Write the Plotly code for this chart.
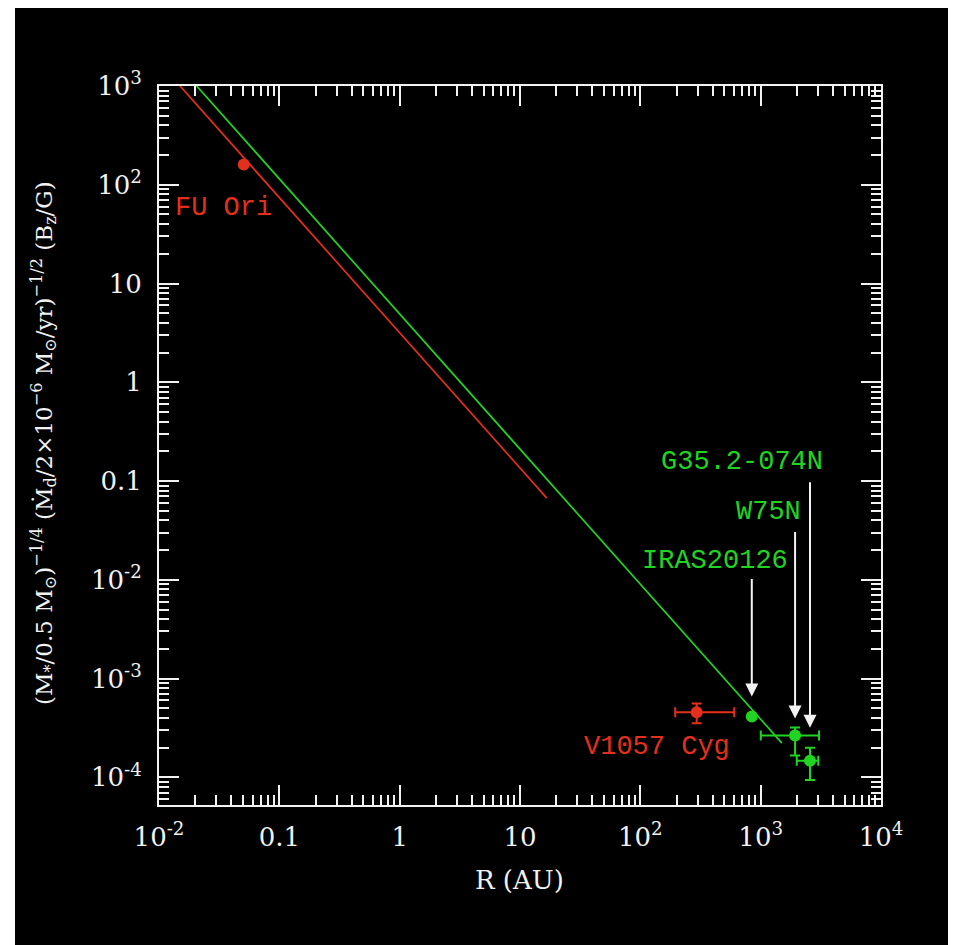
import math
import plotly.graph_objects as go

# ---------------- data ----------------
red_names = ["FU Ori", "V1057 Cyg"]
red_r = [0.0506, 294]
red_r_lo = [0.0506, 195]
red_r_hi = [0.0506, 603]
red_val = [160, 4.56e-4]
red_val_lo = [160, 3.53e-4]
red_val_hi = [160, 5.6e-4]

green_names = ["IRAS20126", "W75N", "G35.2-074N"]
green_r = [844, 1932, 2570]
green_r_lo = [844, 1002, 1995]
green_r_hi = [844, 3055, 3013]
green_val = [4.13e-4, 2.65e-4, 1.476e-4]
green_val_lo = [4.13e-4, 1.66e-4, 9.4e-5]
green_val_hi = [4.13e-4, 3.19e-4, 1.99e-4]

red_line_r = [0.01496, 16.7]
red_line_val = [1000, 0.0671]
green_line_r = [0.02056, 1500]
green_line_val = [1000, 2.22e-4]

x_tickvals = [1e-2, 0.1, 1, 10, 100, 1e3, 1e4]
x_ticktext = ["10<sup>-2</sup>", "0.1", "1", "10", "10<sup>2</sup>", "10<sup>3</sup>", "10<sup>4</sup>"]
y_tickvals = [1e-4, 1e-3, 1e-2, 0.1, 1, 10, 100, 1e3]
y_ticktext = ["10<sup>-4</sup>", "10<sup>-3</sup>", "10<sup>-2</sup>", "0.1", "1", "10", "10<sup>2</sup>", "10<sup>3</sup>"]

# ---------------- style ----------------
RED = "#e3301c"
GREEN = "#22d422"
WHITE = "#f2f2f2"
SERIF = "DejaVu Serif"
MONO = "Liberation Mono"

OFF = 8  # page body margin offset
W, H = 956 - OFF, 945 - OFF
ML, MR, MT, MB = 159 - OFF, 75, 86 - OFF, 140
PW, PH = W - ML - MR, H - MT - MB


def px2paper_x(px):
    return (px - OFF - ML) / PW


def px2paper_y(py):
    return (H - MB - (py - OFF)) / PH


def minor_vals(lo_exp, hi_exp):
    out = []
    for e in range(lo_exp, hi_exp + 1):
        for m in range(2, 10):
            out.append(m * 10 ** e)
    return out


fig = go.Figure()

# model lines
fig.add_trace(go.Scatter(x=red_line_r, y=red_line_val, mode="lines",
                         line=dict(color=RED, width=1.7), hoverinfo="skip"))
fig.add_trace(go.Scatter(x=green_line_r, y=green_line_val, mode="lines",
                         line=dict(color=GREEN, width=1.7), hoverinfo="skip"))


def pts(xs, xlo, xhi, ys, ylo, yhi, color, names):
    return go.Scatter(
        x=xs, y=ys, mode="markers", text=names,
        marker=dict(color=color, size=12, line=dict(width=0)),
        error_x=dict(type="data", symmetric=False,
                     array=[h - v for h, v in zip(xhi, xs)],
                     arrayminus=[v - l for l, v in zip(xlo, xs)],
                     color=color, thickness=2, width=5),
        error_y=dict(type="data", symmetric=False,
                     array=[h - v for h, v in zip(yhi, ys)],
                     arrayminus=[v - l for l, v in zip(ylo, ys)],
                     color=color, thickness=2, width=5),
    )


fig.add_trace(pts(red_r, red_r_lo, red_r_hi, red_val, red_val_lo, red_val_hi, RED, red_names))
fig.add_trace(pts(green_r, green_r_lo, green_r_hi, green_val, green_val_lo, green_val_hi, GREEN, green_names))

annotations = []
# arrows pointing at the green sources
arrow_len = [139, 205, 280]
arrow_gap = [20, 17, 33]
for r, v, L, g in zip(green_r, green_val, arrow_len, arrow_gap):
    annotations.append(dict(x=math.log10(r), y=math.log10(v), xref="x", yref="y",
                            text="", showarrow=True, ax=0, ay=-L, standoff=g,
                            arrowhead=2, arrowsize=1.3, arrowwidth=2, arrowcolor=WHITE))

# source labels (log10 positions)
label_pos = {
    "IRAS20126": (2.621, -1.808, GREEN),
    "W75N": (3.061, -1.312, GREEN),
    "G35.2-074N": (2.845, -0.806, GREEN),
    "V1057 Cyg": (2.139, -3.690, RED),
    "FU Ori": (-1.468, 1.765, RED),
}
for name, (lx, ly, c) in label_pos.items():
    annotations.append(dict(x=lx, y=ly, xref="x", yref="y", text=name, showarrow=False,
                            xanchor="center", yanchor="middle",
                            font=dict(family=MONO, size=27, color=c)))

# axis titles
ytitle = ("(M<sub>*</sub>/0.5 M<sub>⊙</sub>)<sup>−1/4</sup> "
          "(Ṁ<sub>d</sub>/2×10<sup>−6</sup> M<sub>⊙</sub>/yr)<sup>−1/2</sup> "
          "(B<sub>z</sub>/G)")
annotations.append(dict(x=px2paper_x(43), y=px2paper_y(443), xref="paper", yref="paper",
                        text=ytitle, textangle=-90, showarrow=False,
                        xanchor="center", yanchor="middle",
                        font=dict(family=SERIF, size=23, color=WHITE)))
annotations.append(dict(x=px2paper_x(519), y=px2paper_y(880), xref="paper", yref="paper",
                        text="R (AU)", showarrow=False, xanchor="center", yanchor="middle",
                        font=dict(family=SERIF, size=26, color=WHITE)))

# white border strip on the left (slide screenshot edge)
shapes = [
    dict(type="rect", xref="paper", yref="paper",
         x0=px2paper_x(OFF), x1=px2paper_x(15), y0=px2paper_y(945), y1=px2paper_y(OFF),
         fillcolor="white", line=dict(width=0)),
]

axis_common = dict(
    type="log", showgrid=False, zeroline=False,
    showline=True, linecolor=WHITE, linewidth=2, mirror="allticks",
    ticks="inside", ticklen=20, tickwidth=2, tickcolor=WHITE,
    tickfont=dict(family=SERIF, size=26, color=WHITE),
)

fig.update_layout(
    width=W, height=H,
    margin=dict(l=ML, r=MR, t=MT, b=MB, autoexpand=False),
    paper_bgcolor="black", plot_bgcolor="black",
    showlegend=False,
    xaxis=dict(range=[-2, 4], tickmode="array", tickvals=x_tickvals, ticktext=x_ticktext,
               ticklabelstandoff=8,
               minor=dict(tickmode="array", tickvals=minor_vals(-2, 3), ticks="inside",
                          ticklen=10, tickwidth=2, tickcolor=WHITE),
               **axis_common),
    yaxis=dict(range=[-4.28, 3], tickmode="array", tickvals=y_tickvals, ticktext=y_ticktext,
               ticklabelstandoff=10,
               minor=dict(tickmode="array", tickvals=minor_vals(-5, 2), ticks="inside",
                          ticklen=10, tickwidth=2, tickcolor=WHITE),
               **axis_common),
    annotations=annotations,
    shapes=shapes,
)

fig.write_html("out.html")
